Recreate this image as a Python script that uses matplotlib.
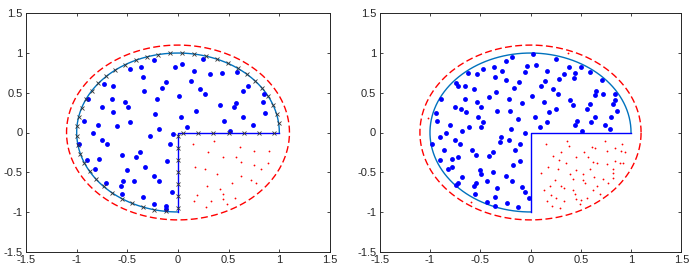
import numpy as np
import matplotlib

matplotlib.use("Agg")

import matplotlib.pyplot as plt

plt.rcParams["font.family"] = ["Liberation Sans", "DejaVu Sans"]

TICKS = [-1.5, -1, -0.5, 0, 0.5, 1, 1.5]
TICK_LABELS = ["-1.5", "-1", "-0.5", "0", "0.5", "1", "1.5"]

# Left panel: interior samples (blue), samples in the cut-out quadrant (red)
left_blue_x = [-0.47, -0.365, -0.24, -0.35, -0.73, -0.645, -0.115, -0.16, -0.335, -0.885,
               -0.65, -0.52, -0.21, -0.49, -0.75, -0.645, -0.23, -0.93, -0.47, -0.79,
               -0.605, -0.19, -0.03,
               0.04, 0.25, 0.16, 0.32, 0.43, 0.58, 0.13, 0.69, 0.22, 0.27,
               0.64, 0.01, 0.85, 0.84, 0.41, 0.57, 0.55, 0.18, 0.86, 0.03,
               0.45, 0.64, 0.74, 0.09, 0.51,
               -0.84, -0.75, -0.70, -0.975, -0.28, -0.08, -0.05, -0.555, -0.375, -0.41,
               -0.78, -0.895, -0.11, -0.82, -0.50, -0.33, -0.237, -0.185, -0.43, -0.71,
               -0.54, -0.56, -0.06, -0.55, -0.35, -0.24, -0.12, -0.12]
left_blue_y = [0.80, 0.82, 0.91, 0.695, 0.61, 0.585, 0.63, 0.56, 0.52, 0.425,
               0.42, 0.39, 0.425, 0.32, 0.32, 0.26, 0.23, 0.15, 0.13, 0.10,
               0.08, 0.045, 0.83,
               0.86, 0.93, 0.78, 0.73, 0.745, 0.76, 0.65, 0.585, 0.55, 0.485,
               0.52, 0.46, 0.48, 0.39, 0.34, 0.37, 0.32, 0.27, 0.245, 0.19,
               0.15, 0.19, 0.10, 0.065, 0.015,
               -0.01, -0.095, -0.15, -0.145, -0.05, -0.15, -0.02, -0.28, -0.25, -0.31,
               -0.33, -0.35, -0.355, -0.46, -0.47, -0.435, -0.545, -0.615, -0.61, -0.635,
               -0.615, -0.67, -0.75, -0.77, -0.81, -0.90, -0.92, -0.96]
left_red_x = [0.15, 0.36, 0.30, 0.61, 0.75, 0.90, 0.44, 0.57, 0.62, 0.75,
              0.89, 0.27, 0.17, 0.38, 0.82, 0.62, 0.72, 0.77, 0.53, 0.29,
              0.41, 0.19, 0.44, 0.44, 0.56, 0.33, 0.16, 0.48, 0.28]
left_red_y = [-0.14, -0.11, -0.25, -0.18, -0.23, -0.23, -0.31, -0.31, -0.37, -0.41,
              -0.38, -0.46, -0.43, -0.52, -0.46, -0.55, -0.60, -0.63, -0.63, -0.67,
              -0.71, -0.79, -0.78, -0.84, -0.83, -0.86, -0.86, -0.90, -0.94]
# Boundary nodes of the left panel (x markers)
left_arc_node_deg = [6.75, 13.5, 20.25, 27, 33.75, 40.5, 47.25, 54, 60.75, 67.5,
                     74.25, 81, 87.75, 94.5, 101.25, 108, 114.75, 121.5, 128.25, 135,
                     141.75, 148.5, 155.25, 162, 168.75, 175.5, 182.25, 189, 195.75, 202.5,
                     209.25, 216, 222.75, 229.5, 236.25, 243, 249.75, 256.5, 263.25]
left_edge_nodes_h = [0.05, 0.2, 0.35, 0.5, 0.65, 0.8, 0.95]
left_edge_nodes_v = [-0.04, -0.19, -0.35, -0.5, -0.65, -0.8, -0.95]

# Right panel
right_blue_x = [-0.18, -0.24, -0.055, -0.47, -0.36, -0.28, -0.62, -0.53, -0.35, -0.24,
                -0.11, -0.74, -0.72, -0.65, -0.56, -0.16, -0.34, -0.89, -0.65, -0.41,
                -0.21, -0.53, -0.49, -0.75, -0.69, -0.08, -0.64, -0.33, -0.20, -0.94,
                -0.52, -0.47, -0.93, -0.12, -0.80, -0.61, -0.49, -0.19, -0.68, -0.84,
                -0.055,
                0.02, 0.25, 0.05, -0.03, 0.38, 0.50, 0.16, 0.44, 0.435, 0.59,
                0.33, 0.28, 0.14, 0.71, 0.10, 0.65, 0.64, 0.72, 0.84, 0.22,
                0.27, 0.01, 0.39, 0.84, 0.13, 0.59, 0.42, 0.82, 0.56, 0.25,
                0.18, 0.86, 0.045, 0.80, 0.64, 0.46, 0.16, 0.60, 0.44, 0.74,
                0.09, 0.79, 0.51,
                -0.90, -0.98, -0.75, -0.70, -0.29, -0.30, -0.21, -0.10, -0.15, -0.86,
                -0.58, -0.545, -0.37, -0.41, -0.78, -0.72, -0.90, -0.105, -0.17, -0.78,
                -0.82, -0.50, -0.495, -0.37, -0.24, -0.68, -0.18, -0.43, -0.545, -0.72,
                -0.74, -0.56, -0.08, -0.055, -0.33, -0.555, -0.35, -0.015, -0.43, -0.23,
                -0.35, -0.12]
right_blue_y = [0.95, 0.905, 0.765, 0.80, 0.82, 0.77, 0.75, 0.73, 0.70, 0.66,
                0.63, 0.62, 0.58, 0.585, 0.55, 0.56, 0.51, 0.425, 0.42, 0.45,
                0.425, 0.39, 0.32, 0.32, 0.30, 0.37, 0.26, 0.27, 0.27, 0.24,
                0.20, 0.13, 0.15, 0.17, 0.10, 0.07, 0.065, 0.04, 0.02, -0.01,
                -0.01,
                0.99, 0.93, 0.855, 0.84, 0.83, 0.825, 0.78, 0.75, 0.69, 0.76,
                0.73, 0.67, 0.65, 0.66, 0.59, 0.52, 0.47, 0.48, 0.48, 0.55,
                0.485, 0.46, 0.41, 0.405, 0.39, 0.36, 0.34, 0.355, 0.30, 0.29,
                0.26, 0.275, 0.195, 0.195, 0.19, 0.15, 0.13, 0.13, 0.09, 0.10,
                0.065, 0.045, 0.02,
                -0.06, -0.145, -0.095, -0.15, -0.06, -0.12, -0.09, -0.15, -0.22, -0.22,
                -0.22, -0.28, -0.25, -0.30, -0.33, -0.31, -0.35, -0.355, -0.41, -0.435,
                -0.46, -0.47, -0.52, -0.50, -0.545, -0.565, -0.61, -0.61, -0.63, -0.64,
                -0.66, -0.675, -0.68, -0.75, -0.70, -0.77, -0.81, -0.82, -0.875, -0.89,
                -0.92, -0.94]
right_red_x = [0.154, 0.36, 0.38, 0.74, 0.91, 0.64, 0.61, 0.84, 0.30, 0.53,
               0.76, 0.90, 0.94, 0.22, 0.45, 0.57, 0.28, 0.62, 0.66, 0.35,
               0.76, 0.84, 0.89, 0.92, 0.17, 0.27, 0.45, 0.59, 0.82, 0.10,
               0.39, 0.52, 0.82, 0.63, 0.42, 0.24, 0.52, 0.72, 0.77, 0.82,
               0.30, 0.19, 0.54, 0.66, 0.33, 0.42, 0.62, 0.13, 0.69, 0.20,
               0.44, 0.25, 0.45, 0.56, 0.16, 0.33, 0.50, 0.49, 0.21, 0.29,
               0.37, -1.02, -0.59]
right_red_y = [-0.14, -0.11, -0.17, -0.11, -0.14, -0.20, -0.18, -0.19, -0.25, -0.25,
               -0.23, -0.23, -0.24, -0.29, -0.31, -0.31, -0.35, -0.37, -0.38, -0.38,
               -0.40, -0.36, -0.38, -0.38, -0.43, -0.46, -0.47, -0.46, -0.46, -0.51,
               -0.52, -0.52, -0.51, -0.56, -0.59, -0.60, -0.60, -0.59, -0.63, -0.57,
               -0.67, -0.67, -0.64, -0.67, -0.70, -0.72, -0.72, -0.72, -0.77, -0.79,
               -0.78, -0.82, -0.84, -0.83, -0.86, -0.86, -0.85, -0.90, -0.92, -0.95,
               1.0, 0.18, -0.87]

ARC_BLUE = "#0072BD"
LINE_BLUE = "#0000FF"
RED = "#FF0000"
INK = "#262626"

W, H = 698, 278
fig = plt.figure(figsize=(W / 100, H / 100), dpi=100)
ax_l = fig.add_axes([26 / W, 1 - 251.7 / H, 304 / W, 238.4 / H])
ax_r = fig.add_axes([379.7 / W, 1 - 251.7 / H, 301.6 / W, 238.4 / H])

theta = np.linspace(0, 1.5 * np.pi, 300)
ring = np.linspace(0, 2 * np.pi, 400)


def draw_panel(ax, blue_x, blue_y, red_x, red_y):
    ax.plot(1.1 * np.cos(ring), 1.1 * np.sin(ring), color=RED, lw=1.0,
            linestyle=(0, (5, 2.4)))
    ax.plot(np.cos(theta), np.sin(theta), color=ARC_BLUE, lw=1.0)
    ax.plot([0, 0, 1], [-1, 0, 0], color=LINE_BLUE, lw=1.0)
    ax.plot(blue_x, blue_y, "o", color=LINE_BLUE, ms=3.5, mew=0)
    ax.plot(red_x, red_y, "o", color=RED, ms=1.3, mew=0)
    ax.set_xlim(-1.5, 1.5)
    ax.set_ylim(-1.5, 1.5)
    ax.set_xticks(TICKS)
    ax.set_xticklabels(TICK_LABELS)
    ax.set_yticks(TICKS)
    ax.set_yticklabels(TICK_LABELS)
    ax.tick_params(direction="in", length=2.5, width=0.6, top=True, right=True,
                   labelsize=8, colors=INK, pad=2.5)
    for spine in ax.spines.values():
        spine.set_color(INK)
        spine.set_linewidth(0.7)


draw_panel(ax_l, left_blue_x, left_blue_y, left_red_x, left_red_y)
draw_panel(ax_r, right_blue_x, right_blue_y, right_red_x, right_red_y)

# boundary nodes on the left panel
node_rad = np.deg2rad(left_arc_node_deg)
ax_l.plot(np.cos(node_rad), np.sin(node_rad), "x", color="#333333", ms=2.6, mew=0.6)
ax_l.plot(left_edge_nodes_h, [0] * len(left_edge_nodes_h), "x", color="#333333", ms=2.6, mew=0.6)
ax_l.plot([0] * len(left_edge_nodes_v), left_edge_nodes_v, "x", color="#333333", ms=2.6, mew=0.6)

fig.savefig("out.png", dpi=100, facecolor="white")
